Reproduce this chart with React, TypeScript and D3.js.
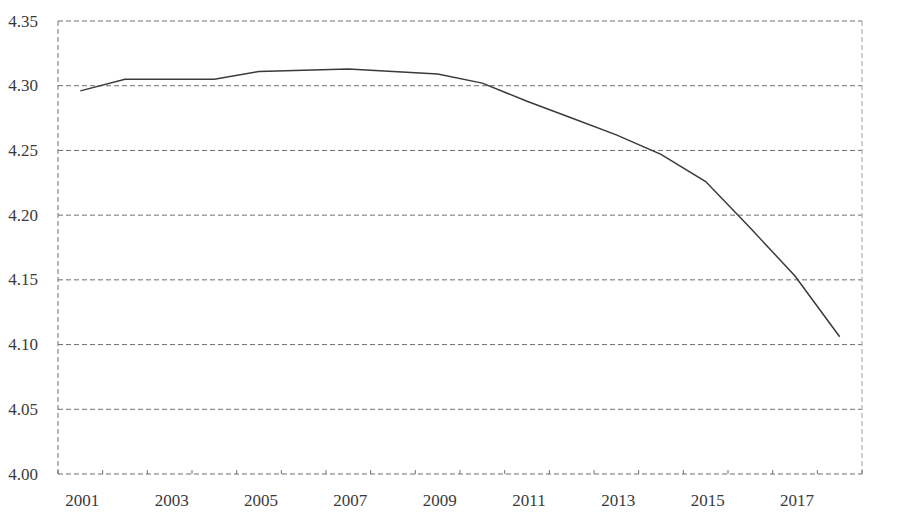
import React from "react";
import * as d3 from "d3";

const years = [2001, 2002, 2003, 2004, 2005, 2006, 2007, 2008, 2009, 2010, 2011, 2012, 2013, 2014, 2015, 2016, 2017, 2018];
const values = [4.296, 4.305, 4.305, 4.305, 4.311, 4.312, 4.313, 4.311, 4.309, 4.302, 4.288, 4.275, 4.262, 4.247, 4.226, 4.19, 4.153, 4.106];
const yTicks = [4.0, 4.05, 4.1, 4.15, 4.2, 4.25, 4.3, 4.35];
const xLabelYears = [2001, 2003, 2005, 2007, 2009, 2011, 2013, 2015, 2017];

const W = 900;
const H = 520;
const M = { left: 58, right: 38, top: 21, bottom: 46 };

export default function App() {
  const x = d3
    .scaleBand<number>()
    .domain(years)
    .range([M.left, W - M.right])
    .paddingInner(0)
    .paddingOuter(0);
  const y = d3.scaleLinear().domain([4.0, 4.35]).range([H - M.bottom, M.top]);
  const cx = (yr: number) => (x(yr) as number) + x.bandwidth() / 2;
  const line = d3
    .line<number>()
    .x((_, i) => cx(years[i]))
    .y((v) => y(v));
  const x0 = M.left;
  const x1 = W - M.right;
  const yb = y(4.0);
  const textStyle: React.CSSProperties = {
    fontFamily: '"Liberation Serif", "Times New Roman", Times, serif',
    fontSize: "17px",
  };
  const boundaries = years.map((yr) => x(yr) as number).concat([x1]);

  return (
    <div style={{ position: "absolute", left: 0, top: 0 }}>
      <svg width={W} height={H} style={{ display: "block", background: "#fff" }}>
        {yTicks.map((t) => (
          <line
            key={"g" + t}
            x1={x0}
            x2={x1}
            y1={y(t)}
            y2={y(t)}
            stroke="#707070"
            strokeWidth={1}
            strokeDasharray="5,3"
          />
        ))}
        <line x1={x0} x2={x0} y1={M.top} y2={yb} stroke="#707070" strokeWidth={1} strokeDasharray="5,3" />
        <line x1={x1} x2={x1} y1={M.top} y2={yb} stroke="#b0b0b0" strokeWidth={1.2} strokeDasharray="5,3" />
        {boundaries.map((bx, i) => (
          <line key={"t" + i} x1={bx} x2={bx} y1={yb} y2={yb - 4} stroke="#707070" strokeWidth={1} />
        ))}
        {yTicks.map((t) => (
          <text
            key={"yl" + t}
            x={38}
            y={y(t) + 5.5}
            textAnchor="end"
            style={textStyle}
            fill="#3a3a3a"
          >
            {t.toFixed(2)}
          </text>
        ))}
        {xLabelYears.map((yr) => (
          <text
            key={"xl" + yr}
            x={cx(yr) + 2}
            y={506}
            textAnchor="middle"
            style={textStyle}
            fill="#3a3a3a"
          >
            {yr}
          </text>
        ))}
        <path d={line(values) || ""} fill="none" stroke="#3a3a3a" strokeWidth={1.5} />
      </svg>
    </div>
  );
}
